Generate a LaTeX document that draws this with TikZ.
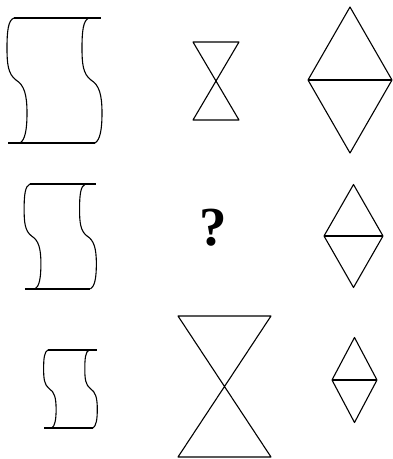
\documentclass[tikz,border=0pt]{standalone}
\usepackage{fontspec}
\setmainfont{Liberation Serif}

% one side of a scroll, drawn from its top end (height 125)
\newcommand{\wavepath}{(0,0) .. controls (-6,2) and (-7,14) .. (-7,30)
  .. controls (-7,46) and (-6,56) .. (2,62)
  .. controls (10,67) and (13,76) .. (13,95)
  .. controls (13,112) and (11,122) .. (6,125)}

% scroll: top left x, y, scale, gap between the two sides
\newcommand{\scrollshape}[4]{%
  \begin{scope}[shift={(#1,#2)}, scale=#3]
    \draw (0,0) -- (#4+12,0);
    \draw (-6,125) -- (#4+6,125);
    \foreach \dx in {0,#4} \draw[shift={(\dx,0)}] \wavepath;
  \end{scope}}

% hourglass: centre x, y, width, height
\newcommand{\hourglass}[4]{%
  \draw (#1-#3/2,#2-#4/2) -- (#1+#3/2,#2-#4/2) -- (#1-#3/2,#2+#4/2)
    -- (#1+#3/2,#2+#4/2) -- cycle;}

% diamond cut in two: centre x, y, width, height
\newcommand{\splitdiamond}[4]{%
  \draw (#1,#2-#4/2) -- (#1+#3/2,#2) -- (#1,#2+#4/2) -- (#1-#3/2,#2) -- cycle;
  \draw (#1-#3/2,#2) -- (#1+#3/2,#2);}

\begin{document}
\begin{tikzpicture}[x=1pt, y=-1pt, line width=1.1pt, line join=round]
    \useasboundingbox (0,0) rectangle (393,459);

    % Left column
    \scrollshape{14}{18}{1}{75}
    \scrollshape{30}{184}{0.84}{66}
    \scrollshape{48}{350}{0.624}{66}

    % Middle column
    \hourglass{216}{81}{46}{78}
    \node[font=\fontsize{55}{55}\selectfont\bfseries, anchor=base, inner sep=0pt]
      (question) at (213.5,245) {?};
    \hourglass{224.5}{386.5}{93}{141}

    % Right column
    \splitdiamond{350}{80}{84}{146}
    \splitdiamond{353.5}{236}{59}{103}
    \splitdiamond{354.5}{380}{45}{85}
\end{tikzpicture}
\end{document}
